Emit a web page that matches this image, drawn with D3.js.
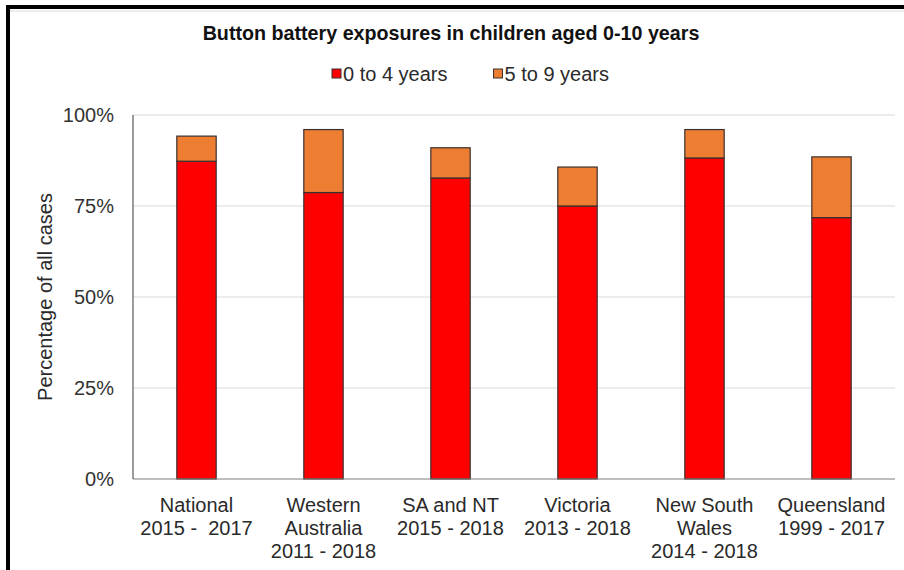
<!DOCTYPE html>
<html>
<head>
<meta charset="utf-8">
<script src="https://cdn.jsdelivr.net/npm/d3@7"></script>
<style>
  html, body { margin: 0; padding: 0; background: #fff; }
  svg text { font-family: Arial, "Liberation Sans", sans-serif; white-space: pre; }
</style>
</head>
<body>
<svg id="chart" width="904" height="570"></svg>
<script>
// Regions (each label is drawn as stacked lines)
const regions = [
  ["National", "2015 -  2017"],
  ["Western", "Australia", "2011 - 2018"],
  ["SA and NT", "2015 - 2018"],
  ["Victoria", "2013 - 2018"],
  ["New South", "Wales", "2014 - 2018"],
  ["Queensland", "1999 - 2017"]
];
// Share of all cases, by age group (%)
const age0to4 = [87.3, 78.7, 82.7, 75.0, 88.2, 71.8];
const age5to9 = [6.9, 17.3, 8.3, 10.7, 7.8, 16.7];
const seriesNames = ["0 to 4 years", "5 to 9 years"];
const seriesColors = ["#ff0000", "#ed7d31"];
const yTicks = [0, 25, 50, 75, 100];

(function draw() {
  const svg = d3.select("#chart");
  const W = 904, H = 570;
  const plotL = 133, plotR = 895, plotT = 115, plotB = 479;

  svg.append("rect").attr("width", W).attr("height", H).attr("fill", "#fff");

  // Frame (open to the right and bottom)
  svg.append("line").attr("x1", 6).attr("x2", W).attr("y1", 11).attr("y2", 11)
    .attr("stroke", "#d8d8d8").attr("stroke-width", 1);
  svg.append("path").attr("d", `M8,${H} L8,7 L${W},7`)
    .attr("fill", "none").attr("stroke", "#000").attr("stroke-width", 4);

  const keys = regions.map(r => r.join(" "));
  const x = d3.scaleBand().domain(keys).range([plotL, plotR])
    .paddingInner(0.69).paddingOuter(0.345);
  const y = d3.scaleLinear().domain([0, 100]).range([plotB, plotT]);

  // Gridlines
  svg.append("g").selectAll("line").data(yTicks.filter(t => t > 0)).join("line")
    .attr("x1", plotL).attr("x2", plotR)
    .attr("y1", d => y(d)).attr("y2", d => y(d))
    .attr("stroke", "#d9d9d9").attr("stroke-width", 1);

  // Stacked bars
  const rows = keys.map((k, i) => ({ key: k, a: age0to4[i], b: age5to9[i] }));
  const stack = d3.stack().keys(["a", "b"])(rows);
  svg.append("g").selectAll("g").data(stack).join("g")
    .attr("fill", (d, i) => seriesColors[i])
    .selectAll("rect").data(d => d).join("rect")
    .attr("x", d => x(d.data.key))
    .attr("width", x.bandwidth())
    .attr("y", d => y(d[1]))
    .attr("height", d => y(d[0]) - y(d[1]))
    .attr("stroke", "#3b3030").attr("stroke-width", 1.2);

  // Axis lines
  svg.append("line").attr("x1", plotL).attr("x2", plotL).attr("y1", plotT).attr("y2", plotB)
    .attr("stroke", "#595959").attr("stroke-width", 1.2);
  svg.append("line").attr("x1", plotL).attr("x2", plotR).attr("y1", plotB).attr("y2", plotB)
    .attr("stroke", "#7f7f7f").attr("stroke-width", 1.2);

  // Y tick labels
  svg.append("g").selectAll("text").data(yTicks).join("text")
    .attr("x", plotL - 19).attr("y", d => y(d))
    .attr("dy", "0.36em").attr("text-anchor", "end")
    .attr("font-size", 20).attr("fill", "#333")
    .text(d => d + "%");

  // X category labels
  const xl = svg.append("g").selectAll("text").data(regions).join("text")
    .attr("text-anchor", "middle").attr("font-size", 20).attr("fill", "#2a2a2a")
    .attr("x", (d, i) => x(keys[i]) + x.bandwidth() / 2)
    .attr("y", 511.5);
  xl.selectAll("tspan").data(d => d).join("tspan")
    .attr("x", function () { return d3.select(this.parentNode).attr("x"); })
    .attr("dy", (d, i) => i === 0 ? 0 : 23)
    .text(d => d);

  // Y axis title
  svg.append("text")
    .attr("transform", `translate(52,${(plotT + plotB) / 2}) rotate(-90)`)
    .attr("text-anchor", "middle").attr("font-size", 20).attr("fill", "#2a2a2a")
    .text("Percentage of all cases");

  // Title
  svg.append("text").attr("x", 451).attr("y", 40)
    .attr("text-anchor", "middle").attr("font-size", 19.7).attr("font-weight", "bold")
    .attr("fill", "#111")
    .text("Button battery exposures in children aged 0-10 years");

  // Legend
  const legend = svg.append("g");
  const items = legend.selectAll("g").data(seriesNames).join("g");
  items.append("rect").attr("width", 9).attr("height", 9).attr("y", -12)
    .attr("fill", (d, i) => seriesColors[i]).attr("stroke", "#3b3030").attr("stroke-width", 1);
  items.append("text").attr("x", 11).attr("y", 0).attr("font-size", 20).attr("fill", "#2a2a2a")
    .text(d => d);
  let cx = 0;
  items.each(function () {
    d3.select(this).attr("transform", `translate(${cx},0)`);
    cx += this.getBBox().width + 46;
  });
  legend.attr("transform", "translate(332,81)");
})();
</script>
</body>
</html>
